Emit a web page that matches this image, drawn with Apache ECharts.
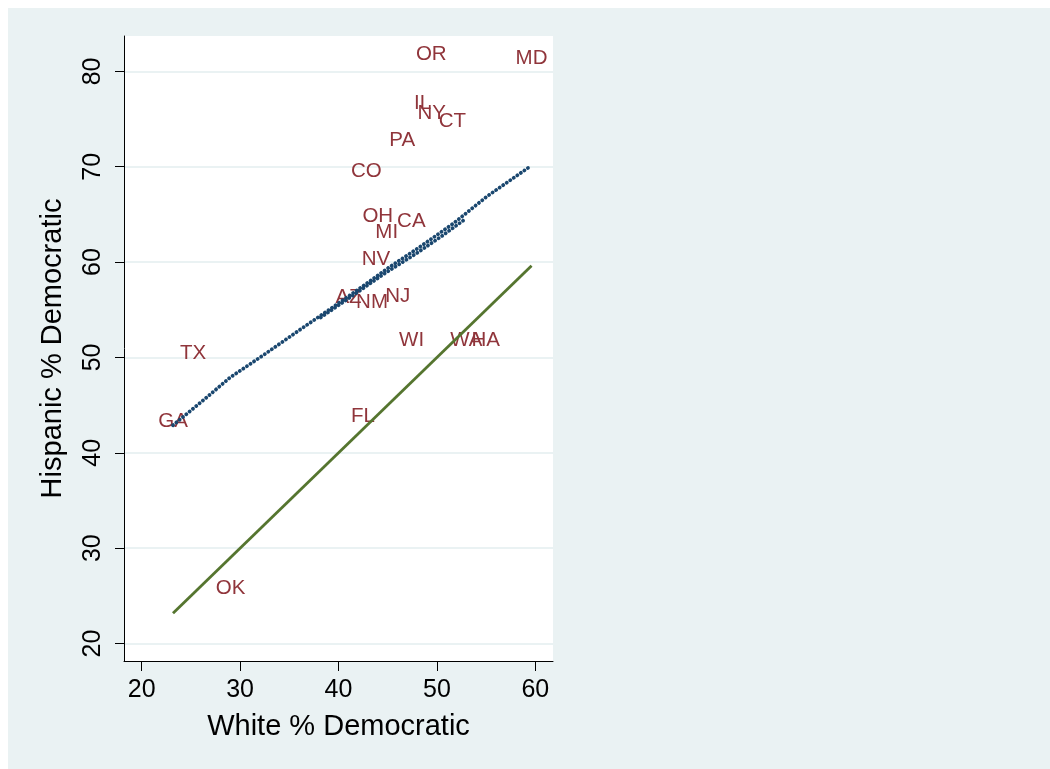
<!DOCTYPE html>
<html>
<head>
<meta charset="utf-8">
<script src="https://cdn.jsdelivr.net/npm/echarts@6/dist/echarts.min.js"></script>
<style>
  html, body { margin: 0; padding: 0; background: #ffffff; width: 1050px; height: 769px; overflow: hidden; }
  #chart { position: absolute; left: 8px; top: 8px; width: 1042px; height: 761px; }
</style>
</head>
<body>
<div id="chart"></div>
<script>
// State-level Democratic vote share, white vs. Hispanic voters
const states   = ['OR', 'MD', 'IL', 'NY', 'CT', 'PA', 'CO', 'OH', 'CA', 'MI', 'NV',
                  'AZ', 'NM', 'NJ', 'WI', 'WA', 'HA', 'TX', 'GA', 'FL', 'OK'];
const whiteDem = [49.43, 59.62, 48.55, 49.48, 51.57, 46.48, 42.84, 43.99, 47.4, 44.9, 43.81,
                  41.02, 43.41, 46.02, 47.43, 53.0, 54.96, 25.22, 23.18, 42.48, 29.03];
const hispDem  = [81.75, 81.35, 76.6, 75.63, 74.76, 72.82, 69.48, 64.79, 64.25, 63.09, 60.31,
                  56.31, 55.79, 56.37, 51.83, 51.83, 51.83, 50.45, 43.25, 43.84, 25.83];

// Fitted Hispanic share along the white share
const fitWhite = [23.18, 26.24, 28.98, 32.37, 36.28, 39.49, 42.89, 44.92, 48.31, 51.7, 55.1, 59.57];
const fitHisp  = [42.9, 45.5, 47.9, 50.25, 53.05, 55.32, 57.78, 59.3, 61.62, 64.07, 66.9, 70.1];
// Second row of fitted values where observations are dense
const fitWhite2 = [38.2, 41.6, 44.6, 47.9, 50.6, 53.0];
const fitHisp2  = [54.2, 56.6, 58.75, 60.9, 62.8, 64.6];

const xTicks = [20, 30, 40, 50, 60];
const yTicks = [20, 30, 40, 50, 60, 70, 80];

const FONT = '"Liberation Sans", Arial, Helvetica, sans-serif';
const LABEL_COLOR = '#90353b';
const FIT_COLOR = '#1a476f';
const EQUAL_COLOR = '#55752f';

// Equal-share reference line spans the observed white share range
const xLo = Math.min(...whiteDem);
const xHi = Math.max(...whiteDem);
const equalLine = [[xLo, xLo], [xHi, xHi]];

const labelPoints = states.map((s, i) => ({ name: s, value: [whiteDem[i], hispDem[i]] }));
const fitPoints = fitWhite.map((x, i) => [x, fitHisp[i]]);
const fitPoints2 = fitWhite2.map((x, i) => [x, fitHisp2[i]]);

const dotted = { color: FIT_COLOR, width: 3.8, type: [0.1, 4.2], cap: 'round' };

const chart = echarts.init(document.getElementById('chart'), null, { renderer: 'canvas' });
chart.setOption({
  animation: false,
  backgroundColor: '#eaf2f3',
  textStyle: { fontFamily: FONT },
  grid: {
    left: 116, top: 28, width: 429, height: 625,
    show: true, backgroundColor: '#ffffff', borderWidth: 0
  },
  xAxis: {
    type: 'value', min: 18.2, max: 61.8,
    name: 'White % Democratic', nameLocation: 'middle', nameGap: 51,
    nameTextStyle: { fontSize: 29, color: '#000', fontFamily: FONT },
    axisLine: { show: true, onZero: false, lineStyle: { color: '#000', width: 1 } },
    axisTick: { show: true, length: 10, customValues: xTicks, lineStyle: { color: '#000', width: 1 } },
    axisLabel: { customValues: xTicks, margin: 17, fontSize: 25, color: '#000', fontFamily: FONT },
    splitLine: { show: false }
  },
  yAxis: {
    type: 'value', min: 18.17, max: 83.71,
    name: 'Hispanic % Democratic', nameLocation: 'middle', nameGap: 57, nameRotate: 90,
    nameTextStyle: { fontSize: 29, color: '#000', fontFamily: FONT },
    axisLine: { show: true, onZero: false, lineStyle: { color: '#000', width: 1 } },
    axisTick: { show: true, length: 9, customValues: yTicks, lineStyle: { color: '#000', width: 1 } },
    axisLabel: { customValues: yTicks, rotate: 90, margin: 18, fontSize: 25, color: '#000', fontFamily: FONT },
    splitLine: { show: true, lineStyle: { color: '#eaf2f3', width: 2 } }
  },
  series: [
    {
      name: 'states', type: 'scatter', z: 2,
      data: labelPoints,
      symbol: 'circle',
      symbolSize: 1,
      itemStyle: { color: 'rgba(0,0,0,0)', opacity: 1 },
      label: {
        show: true, position: 'inside', formatter: p => p.name,
        color: LABEL_COLOR, fontSize: 20.5, fontFamily: FONT,
        textBorderWidth: 0, textShadowBlur: 0
      },
      labelLayout: { hideOverlap: false },
      emphasis: { disabled: true }
    },
    {
      name: 'fitted', type: 'line', z: 3,
      data: fitPoints, showSymbol: false, smooth: false,
      lineStyle: dotted,
      emphasis: { disabled: true }
    },
    {
      name: 'fitted-dense', type: 'line', z: 3,
      data: fitPoints2, showSymbol: false, smooth: false,
      lineStyle: dotted,
      emphasis: { disabled: true }
    },
    {
      name: 'equal', type: 'line', z: 4,
      data: equalLine, showSymbol: false,
      lineStyle: { color: EQUAL_COLOR, width: 2.8 },
      emphasis: { disabled: true }
    }
  ]
});
</script>
</body>
</html>
